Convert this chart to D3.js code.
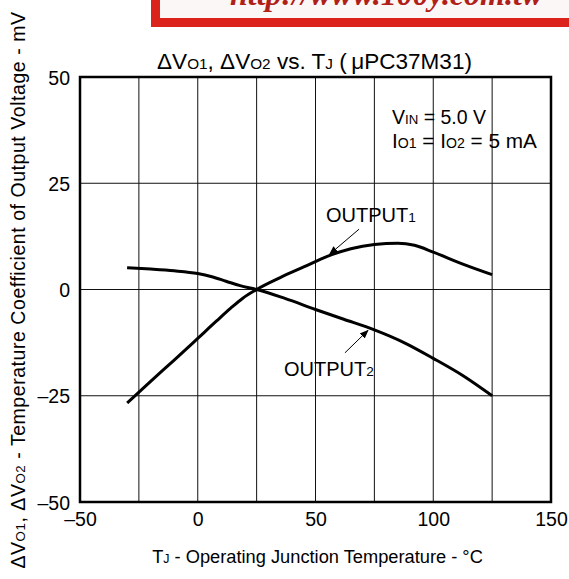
<!DOCTYPE html>
<html><head><meta charset="utf-8">
<script src="https://cdn.jsdelivr.net/npm/d3@7"></script>
<style>body{margin:0;background:#fff}svg{display:block}text{font-family:"Liberation Sans",Arial,sans-serif;fill:#000}</style>
</head><body><svg id="c" width="569" height="579"></svg>
<script>
// Data
const output1T = [-30, -20, -10, 0, 8, 14, 19, 25, 35, 45, 55, 65, 75, 85, 92, 100, 112, 125];
const output1V = [-26.7, -21.6, -16.6, -11.5, -7.4, -4.4, -2.1, 0, 2.8, 5.3, 7.8, 9.6, 10.6, 10.9, 10.4, 8.8, 6.1, 3.5];
const output2T = [-30, -20, -10, 0, 6, 12, 18, 25, 37, 50, 62, 75, 88, 100, 113, 125];
const output2V = [5.1, 4.8, 4.4, 3.75, 3.0, 1.95, 0.9, 0, -2.1, -4.7, -7.0, -9.5, -12.6, -16.2, -20.4, -25];
const xTicks = [-50, 0, 50, 100, 150];
const xGrid = [-25, 0, 25, 50, 75, 100, 125];
const yTicks = [50, 25, 0, -25, -50];

const svg = d3.select("#c");
const x = d3.scaleLinear().domain([-50, 150]).range([80, 551]);
const y = d3.scaleLinear().domain([-50, 50]).range([502, 77]);

// red banner (clipped at top, as in the source scan)
svg.append("rect").attr("x", 155.5).attr("y", -20).attr("width", 440).attr("height", 42.5)
  .attr("fill", "#fbf7f7").attr("stroke", "#dc231b").attr("stroke-width", 9);
svg.append("text").attr("x", 230).attr("y", 5)
  .style("font-family", "'Liberation Serif',serif").attr("font-style", "italic").attr("font-weight", "bold")
  .attr("font-size", 32).style("fill", "#b01f18").text("http://www.100y.com.tw");

// grid
const g = svg.append("g");
g.selectAll(".vg").data(xGrid).join("line")
  .attr("x1", d => x(d)).attr("x2", d => x(d)).attr("y1", y(50)).attr("y2", y(-50))
  .attr("stroke", "#111").attr("stroke-width", 1);
g.selectAll(".hg").data(yTicks.slice(1, -1)).join("line")
  .attr("y1", d => y(d)).attr("y2", d => y(d)).attr("x1", x(-50)).attr("x2", x(150))
  .attr("stroke", "#111").attr("stroke-width", 1);
g.append("rect").attr("x", x(-50)).attr("y", y(50)).attr("width", x(150) - x(-50)).attr("height", y(-50) - y(50))
  .attr("fill", "none").attr("stroke", "#000").attr("stroke-width", 2.5);

// axes labels via d3 axes
const fmt = d => d < 0 ? "\u2013" + Math.abs(d) : String(d);
const yAxis = svg.append("g").attr("transform", "translate(" + x(-50) + ",0)")
  .call(d3.axisLeft(y).tickValues(yTicks).tickFormat(fmt).tickSize(0).tickPadding(10));
const xAxis = svg.append("g").attr("transform", "translate(0," + y(-50) + ")")
  .call(d3.axisBottom(x).tickValues(xTicks).tickFormat(fmt).tickSize(0).tickPadding(10));
[yAxis, xAxis].forEach(a => { a.select(".domain").remove();
  a.selectAll("text").attr("font-size", 19.5).style("font-family", "'Liberation Sans',Arial,sans-serif").attr("fill", "#000"); });
yAxis.selectAll("text").attr("dy", "0.36em");
xAxis.selectAll("text").attr("dy", "0.71em");

// curves
const line = d3.line().x(d => x(d[0])).y(d => y(d[1])).curve(d3.curveMonotoneX);
svg.append("path").datum(output1T.map((t, i) => [t, output1V[i]])).attr("d", line)
  .attr("fill", "none").attr("stroke", "#000").attr("stroke-width", 3);
svg.append("path").datum(output2T.map((t, i) => [t, output2V[i]])).attr("d", line)
  .attr("fill", "none").attr("stroke", "#000").attr("stroke-width", 3);

// arrow marker
svg.append("defs").append("marker").attr("id", "ah").attr("viewBox", "0 0 10 10")
  .attr("refX", 9).attr("refY", 5).attr("markerWidth", 9).attr("markerHeight", 9).attr("orient", "auto")
  .attr("markerUnits", "userSpaceOnUse")
  .append("path").attr("d", "M0,1 L10,5 L0,9 Z").attr("fill", "#000");

function subText(parent, px, py, parts, size, anchor, ratio) {
  const t = parent.append("text").attr("x", px).attr("y", py).attr("font-size", size)
    .attr("text-anchor", anchor || "start");
  parts.forEach(p => {
    const s = t.append("tspan").text(p[0]);
    if (p[1]) s.attr("font-size", size * (ratio || 0.68));
  });
  return t;
}
function fitWidth(t, w) { const cur = t.node().getComputedTextLength(); const fs = +t.attr("font-size");
  t.attr("font-size", fs * w / cur);
  t.selectAll("tspan").each(function () { const s = d3.select(this); if (s.attr("font-size")) s.attr("font-size", +s.attr("font-size") * w / cur); }); }

// annotations (arrow ends in data coordinates)
subText(svg, 326, 222, [["OUTPUT"], ["1", 1]], 20);
svg.append("line").attr("x1", x(68.5)).attr("y1", y(14.2)).attr("x2", x(56)).attr("y2", y(8.3))
  .attr("stroke", "#000").attr("stroke-width", 1).attr("marker-end", "url(#ah)");
subText(svg, 284, 376, [["OUTPUT"], ["2", 1]], 20);
svg.append("line").attr("x1", x(62.5)).attr("y1", y(-14.9)).attr("x2", x(72.3)).attr("y2", y(-9.6))
  .attr("stroke", "#000").attr("stroke-width", 1).attr("marker-end", "url(#ah)");

subText(svg, 392, 124, [["V"], ["IN", 1], [" = 5.0 V"]], 19.5);
const l2 = subText(svg, 392, 148, [["I"], ["O1", 1], [" = I"], ["O2", 1], [" = 5 mA"]], 19.5);
fitWidth(l2, 145);

// title
const tt = subText(svg, 314.5, 69, [["\u0394V"], ["O1", 1], [", \u0394V"], ["O2", 1], [" vs. T"], ["J", 1], [" (\u2009\u03bcPC37M31)"]], 20, "middle");
fitWidth(tt, 315);

// axis titles
const xt = subText(svg, 317.5, 563, [["T"], ["J", 1], [" - Operating Junction Temperature - \u00b0C"]], 18.5, "middle");
fitWidth(xt, 331);
const yl = svg.append("g").attr("transform", "translate(25,290) rotate(-90)");
const ylt = subText(yl, 0, 0, [["\u0394V"], ["O1", 1], [", \u0394V"], ["O2", 1], [" - Temperature Coefficient of Output Voltage - mV"]], 19.5, "middle");
ylt.attr("letter-spacing", 0.55);
</script></body></html>
